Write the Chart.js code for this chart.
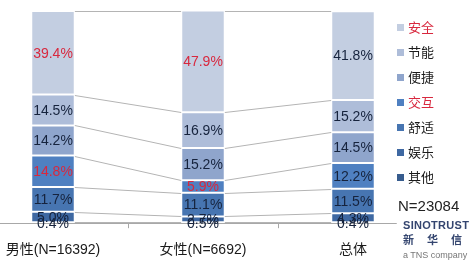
<!DOCTYPE html>
<html lang="zh">
<head>
    <meta charset="UTF-8">
    <title>功能偏好 - 性别</title>
    <script src="https://cdn.jsdelivr.net/npm/chart.js"></script>
    <style>
        html, body { margin: 0; padding: 0; background: #fff; overflow: hidden; }
        .page { position: relative; width: 473px; height: 268px; overflow: hidden; }
        #chartBox { position: absolute; left: -22px; top: 0; width: 495px; height: 268px; }
        .note { position: absolute; font-family: "Liberation Sans", "Noto Sans CJK SC", sans-serif; white-space: nowrap; }
        #sampleN { left: 398px; top: 197px; font-size: 15px; color: #222; }
        #brand { left: 403px; top: 219px; font-size: 11px; font-weight: bold; color: #34456f; letter-spacing: 0.3px; }
        #brandCn { left: 403px; top: 231px; font-size: 11px; font-weight: bold; color: #34456f; letter-spacing: 13px; font-family: "Noto Sans CJK SC", sans-serif; }
        #brandSub { left: 403px; top: 250px; font-size: 9px; color: #777; }
    </style>
</head>
<body>
    <div class="page">
        <div id="chartBox">
            <canvas id="prefChart"></canvas>
        </div>
        <div class="note" id="sampleN">N=23084</div>
        <div class="note" id="brand">SINOTRUST</div>
        <div class="note" id="brandCn">新华信</div>
        <div class="note" id="brandSub">a TNS company</div>
    </div>
    <script>
        const categories = ['男性(N=16392)', '女性(N=6692)', '总体'];
        const seriesNames = ['其他', '娱乐', '舒适', '交互', '便捷', '节能', '安全'];
        const other      = [0.4, 0.5, 0.4];
        const fun        = [5.0, 2.7, 4.3];
        const comfort    = [11.7, 11.1, 11.5];
        const interact   = [14.8, 5.9, 12.2];
        const convenient = [14.2, 15.2, 14.5];
        const energy     = [14.5, 16.9, 15.2];
        const safety     = [39.4, 47.9, 41.8];
        const seriesValues = [other, fun, comfort, interact, convenient, energy, safety];
        const seriesColors = ['#375c8e', '#3e68a2', '#4775b1', '#4f80c1', '#8fa5cc', '#aebdd9', '#c3cee1'];
        // red text for these series (legend + labels of the gender columns)
        const redSeries = ['安全', '交互'];
        const redColumns = [0, 1];

        const FONT = '"Liberation Sans", "Noto Sans CJK SC", sans-serif';
        const RED = '#d8283e';
        const DARK = '#16233d';
        const SHIFT = 22; // canvas is moved 22px left of the page

        // grey lines joining segment tops between neighbouring columns
        const seriesLines = {
            id: 'seriesLines',
            beforeDatasetsDraw(chart) {
                const ctx = chart.ctx;
                ctx.save();
                ctx.strokeStyle = '#b4b4b4';
                ctx.lineWidth = 1;
                chart.data.datasets.forEach((ds, d) => {
                    const bars = chart.getDatasetMeta(d).data;
                    for (let i = 0; i < bars.length - 1; i++) {
                        const a = bars[i], b = bars[i + 1];
                        ctx.beginPath();
                        ctx.moveTo(a.x + a.width / 2, Math.round(a.y) + 0.5);
                        ctx.lineTo(b.x - b.width / 2, Math.round(b.y) + 0.5);
                        ctx.stroke();
                    }
                });
                // axis line
                const y = Math.round(chart.scales.y.getPixelForValue(0)) + 0.5;
                const last = chart.getDatasetMeta(0).data[categories.length - 1];
                ctx.strokeStyle = '#a8a8a8';
                ctx.beginPath();
                ctx.moveTo(chart.chartArea.left, y);
                ctx.lineTo(last.x + last.width / 2 + 22, y);
                ctx.stroke();
                ctx.restore();
            }
        };

        // value labels in the middle of each segment
        const segmentLabels = {
            id: 'segmentLabels',
            afterDatasetsDraw(chart) {
                const ctx = chart.ctx;
                ctx.save();
                ctx.font = '14px ' + FONT;
                ctx.textAlign = 'center';
                ctx.textBaseline = 'middle';
                chart.data.datasets.forEach((ds, d) => {
                    chart.getDatasetMeta(d).data.forEach((bar, i) => {
                        const red = redSeries.includes(ds.label) && redColumns.includes(i);
                        ctx.fillStyle = red ? RED : DARK;
                        ctx.fillText(ds.data[i].toFixed(1) + '%', bar.x, (bar.y + bar.base) / 2 + 1);
                    });
                });
                ctx.restore();
            }
        };

        // legend on the right, top item = last series
        const sideLegend = {
            id: 'sideLegend',
            afterDraw(chart) {
                const ctx = chart.ctx;
                ctx.save();
                ctx.font = '13px ' + FONT;
                ctx.textBaseline = 'middle';
                const items = chart.data.datasets.slice().reverse();
                items.forEach((ds, k) => {
                    const y = 28 + k * 25;
                    ctx.fillStyle = ds.backgroundColor;
                    ctx.fillRect(397 + SHIFT, y - 4, 7, 7);
                    ctx.fillStyle = redSeries.includes(ds.label) ? RED : '#1a1a1a';
                    ctx.fillText(ds.label, 408 + SHIFT, y);
                });
                ctx.restore();
            }
        };

        const datasets = seriesNames.map((name, s) => ({
            label: name,
            data: seriesValues[s],
            backgroundColor: seriesColors[s],
            borderColor: '#ffffff',
            borderWidth: 1,
            borderSkipped: false,
            categoryPercentage: 1,
            barPercentage: 0.29
        }));

        new Chart(document.getElementById('prefChart'), {
            type: 'bar',
            data: { labels: categories, datasets: datasets },
            options: {
                responsive: true,
                maintainAspectRatio: false,
                animation: false,
                layout: { padding: { left: 0, right: 45, top: 11, bottom: -5 } },
                scales: {
                    x: {
                        stacked: true,
                        border: { display: false },
                        grid: {
                            offset: true,
                            drawOnChartArea: false,
                            tickLength: 5,
                            color: (c) => (c.index > 0 && c.index < categories.length) ? '#a8a8a8' : 'rgba(0,0,0,0)'
                        },
                        ticks: { color: '#1a1a1a', font: { size: 14, family: FONT }, padding: 14, maxRotation: 0 }
                    },
                    y: {
                        stacked: true,
                        display: false,
                        min: 0,
                        max: 100
                    }
                },
                plugins: {
                    legend: { display: false },
                    tooltip: { enabled: true }
                }
            },
            plugins: [seriesLines, segmentLabels, sideLegend]
        });
    </script>
</body>
</html>
